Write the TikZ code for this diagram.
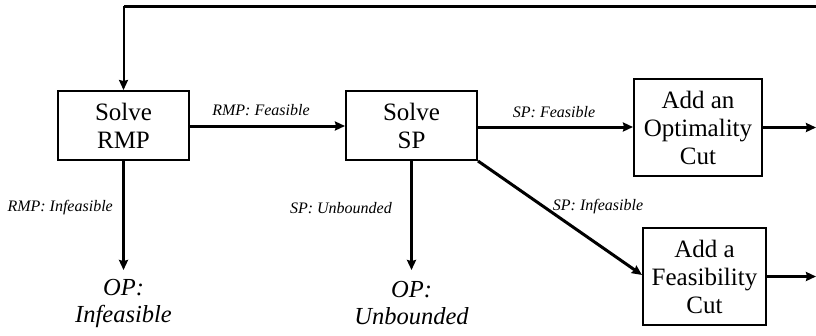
\documentclass[tikz,border=0pt]{standalone}
\usepackage{fontspec}
\setmainfont{Liberation Serif}
\usetikzlibrary{arrows.meta}
\begin{document}
\begin{tikzpicture}[x=1pt,y=-1pt,
  box/.style={draw,line width=2pt,align=center,inner sep=0pt,
    font=\fontsize{25}{28}\selectfont},
  flow/.style={line width=3pt,-{Stealth[length=10pt,width=9pt,inset=1pt]}},
  lbl/.style={font=\fontsize{16}{18}\selectfont\itshape,inner sep=0pt},
  result/.style={align=center,inner sep=0pt,font=\fontsize{24.5}{27}\selectfont\itshape}]
\useasboundingbox (0,0) rectangle (816,335);

% process boxes
\node[box,minimum width=131pt,minimum height=69pt] (rmp) at (123.5,125.5) {Solve\\RMP};
\node[box,minimum width=131pt,minimum height=69pt] (sp) at (411.5,125.5) {Solve\\SP};
\node[box,minimum width=128pt,minimum height=97pt] (opt) at (698,127.5) {Add an\\Optimality\\Cut};
\node[box,minimum width=123pt,minimum height=97pt] (feas) at (704.5,276.5) {Add a\\Feasibility\\Cut};

% terminal outcomes
\node[result] (opinf) at (123.5,303) {OP:\\Infeasible};
\node[result] (opunb) at (411.5,303) {OP:\\Unbounded};
\coordinate (inftip) at (123.5,270);
\coordinate (unbtip) at (411.5,270);

% loop-back line along the top
\coordinate (loopr) at (816,6);
\coordinate (loopl) at (rmp.north |- loopr);
\draw[line width=3pt] (loopr) -- (loopl);
\draw[flow,line width=2pt] (loopl) -- (rmp.north);

% exits to the right edge
\coordinate (optout) at (816,127.5);
\coordinate (feasout) at (816,276.5);
\draw[flow] (opt.east) -- (optout);
\draw[flow] (feas.east) -- (feasout);

% main flow
\draw[flow] (rmp.east |- 0,126) -- (sp.west |- 0,126);
\draw[flow] (sp.east |- 0,127) -- (opt.west |- 0,127);
\draw[flow] (rmp.south) -- (inftip);
\draw[flow] (sp.south) -- (unbtip);
\draw[flow] (sp.south east) -- (feas.west |- 0,275);

% edge labels
\node[lbl] (l1) at (261,110) {RMP: Feasible};
\node[lbl] (l2) at (554,112) {SP: Feasible};
\node[lbl,anchor=east] (l3) at (113,208) {RMP: Infeasible};
\node[lbl,anchor=east] (l4) at (392,208) {SP: Unbounded};
\node[lbl] (l5) at (598,207) {SP: Infeasible};
\end{tikzpicture}
\end{document}
